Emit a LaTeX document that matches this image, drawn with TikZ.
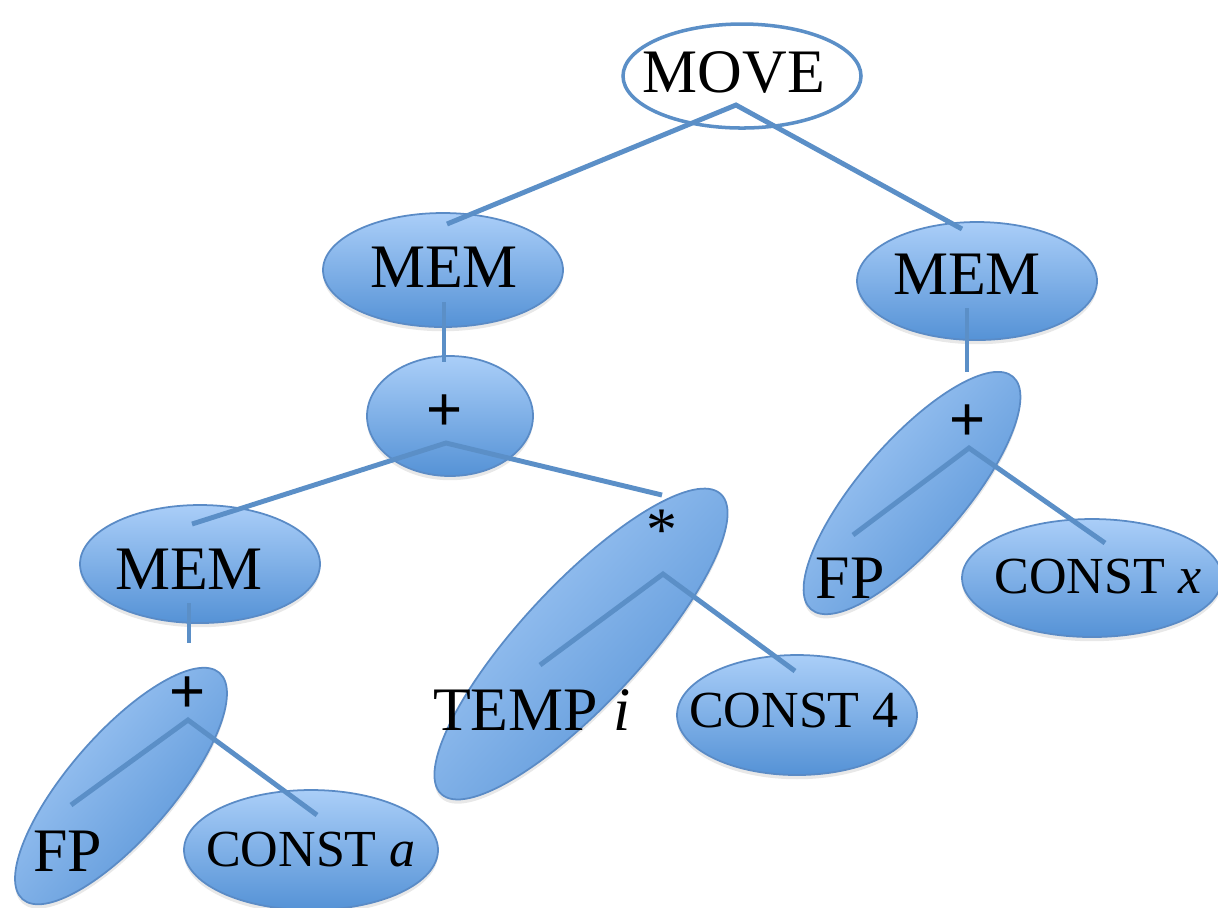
\documentclass[tikz,border=0pt]{standalone}
\usepackage{fontspec}
\setmainfont{Liberation Serif}
\setsansfont{Liberation Sans}
\usetikzlibrary{shapes.geometric, shadows}
\definecolor{treeline}{HTML}{5B8FC7}
\definecolor{blobtop}{HTML}{AACEF8}
\definecolor{blobbot}{HTML}{5592D6}
\definecolor{blobrim}{HTML}{5A8BC6}
\tikzset{
  blob/.style={ellipse,draw=blobrim,line width=0.5pt,top color=blobtop,bottom color=blobbot,
    inner sep=0pt,drop shadow={shadow xshift=0pt,shadow yshift=-1.2pt,opacity=0.18}},
  tiltblob/.style={blob,rotate=#1,shading angle=#1},
  rootblob/.style={ellipse,draw=treeline,line width=1pt,fill=white,inner sep=0pt},
  bigtxt/.style={font=\fontsize{17.6}{20}\selectfont,inner sep=0pt},
  smalltxt/.style={font=\fontsize{14.8}{17}\selectfont,inner sep=0pt},
  optxt/.style={font=\sffamily\fontsize{17.6}{20}\selectfont,inner sep=0pt},
  branch/.style={treeline,line width=1.4pt},
}

\begin{document}
\begin{tikzpicture}[x=0.1mm,y=-0.1mm]
  \useasboundingbox (0,0) rectangle (1218,907);
  % shapes
  \node[rootblob,minimum width=23.8mm,minimum height=10.4mm] (eMove) at (742,76) {};
  \node[blob,minimum width=24mm,minimum height=11.4mm] (eMemL) at (443,270) {};
  \node[blob,minimum width=24mm,minimum height=11.8mm] (eMemR) at (977,281) {};
  \node[blob,minimum width=16.6mm,minimum height=12mm] (ePlusM) at (450,416) {};
  \node[blob,minimum width=24mm,minimum height=11.8mm] (eMemLL) at (200,564) {};
  \node[tiltblob=49,minimum width=30mm,minimum height=10.4mm] (ePlusL) at (121,786) {};
  \node[tiltblob=47,minimum width=41mm,minimum height=12mm] (eStar) at (581,644) {};
  \node[tiltblob=49,minimum width=30.8mm,minimum height=10.4mm] (ePlusR) at (912,493) {};
  \node[blob,minimum width=25.4mm,minimum height=12mm] (eConstA) at (311,850) {};
  \node[blob,minimum width=24mm,minimum height=12mm] (eConst4) at (797,715) {};
  \node[blob,minimum width=26mm,minimum height=11.8mm] (eConstX) at (1092,578) {};

  % branch points
  \coordinate (jMove) at (736,105);
  \coordinate (jPlusM) at (446,443);
  \coordinate (jPlusL) at (188,720);
  \coordinate (jStar) at (663,574);
  \coordinate (jPlusR) at (969,448);
  % branch ends
  \coordinate (bMemL) at (447,224);
  \coordinate (bMemR) at (962,229);
  \coordinate (bMemLL) at (192,524);
  \coordinate (bStar) at (662,495);
  \coordinate (bFpL) at (71,805);
  \coordinate (bConstA) at (317,815);
  \coordinate (bTemp) at (540,665);
  \coordinate (bConst4) at (795,671);
  \coordinate (bFpR) at (853,535);
  \coordinate (bConstX) at (1105,543);
  % stems below MEM
  \coordinate (sMemL) at (444,302);
  \coordinate (sPlusM) at (444,362);
  \coordinate (sMemLL) at (189,603);
  \coordinate (sPlusL) at (189,643);
  \coordinate (sMemR) at (967,308);
  \coordinate (sPlusR) at (967,372);

  \draw[branch] (bMemL) -- (jMove) -- (bMemR);
  \draw[branch] (sMemL) -- (sPlusM);
  \draw[branch] (bMemLL) -- (jPlusM) -- (bStar);
  \draw[branch] (sMemLL) -- (sPlusL);
  \draw[branch] (bFpL) -- (jPlusL) -- (bConstA);
  \draw[branch] (bTemp) -- (jStar) -- (bConst4);
  \draw[branch] (sMemR) -- (sPlusR);
  \draw[branch] (bFpR) -- (jPlusR) -- (bConstX);

  % labels
  \node[bigtxt] (tMove) at (734,72) {MOVE};
  \node[bigtxt] (tMemL) at (444,267) {MEM};
  \node[bigtxt] (tMemR) at (967,274) {MEM};
  \node[bigtxt] (tMemLL) at (189,569) {MEM};
  \node[optxt] (tPlusM) at (445,413) {+};
  \node[optxt] (tPlusL) at (188,695) {+};
  \node[optxt] (tPlusR) at (968,423) {+};
  \node[bigtxt] (tFpL) at (68,851) {FP};
  \node[bigtxt] (tFpR) at (850,578) {FP};
  \node[bigtxt] (tStar) at (662,530) {*};
  \node[bigtxt] (tTemp) at (532,710) {TEMP \textit{i}};
  \node[smalltxt] (tConstA) at (311,850) {CONST \textit{a}};
  \node[smalltxt] (tConst4) at (794,710) {CONST 4};
  \node[smalltxt] (tConstX) at (1098,577) {CONST \textit{x}};
\end{tikzpicture}
\end{document}
